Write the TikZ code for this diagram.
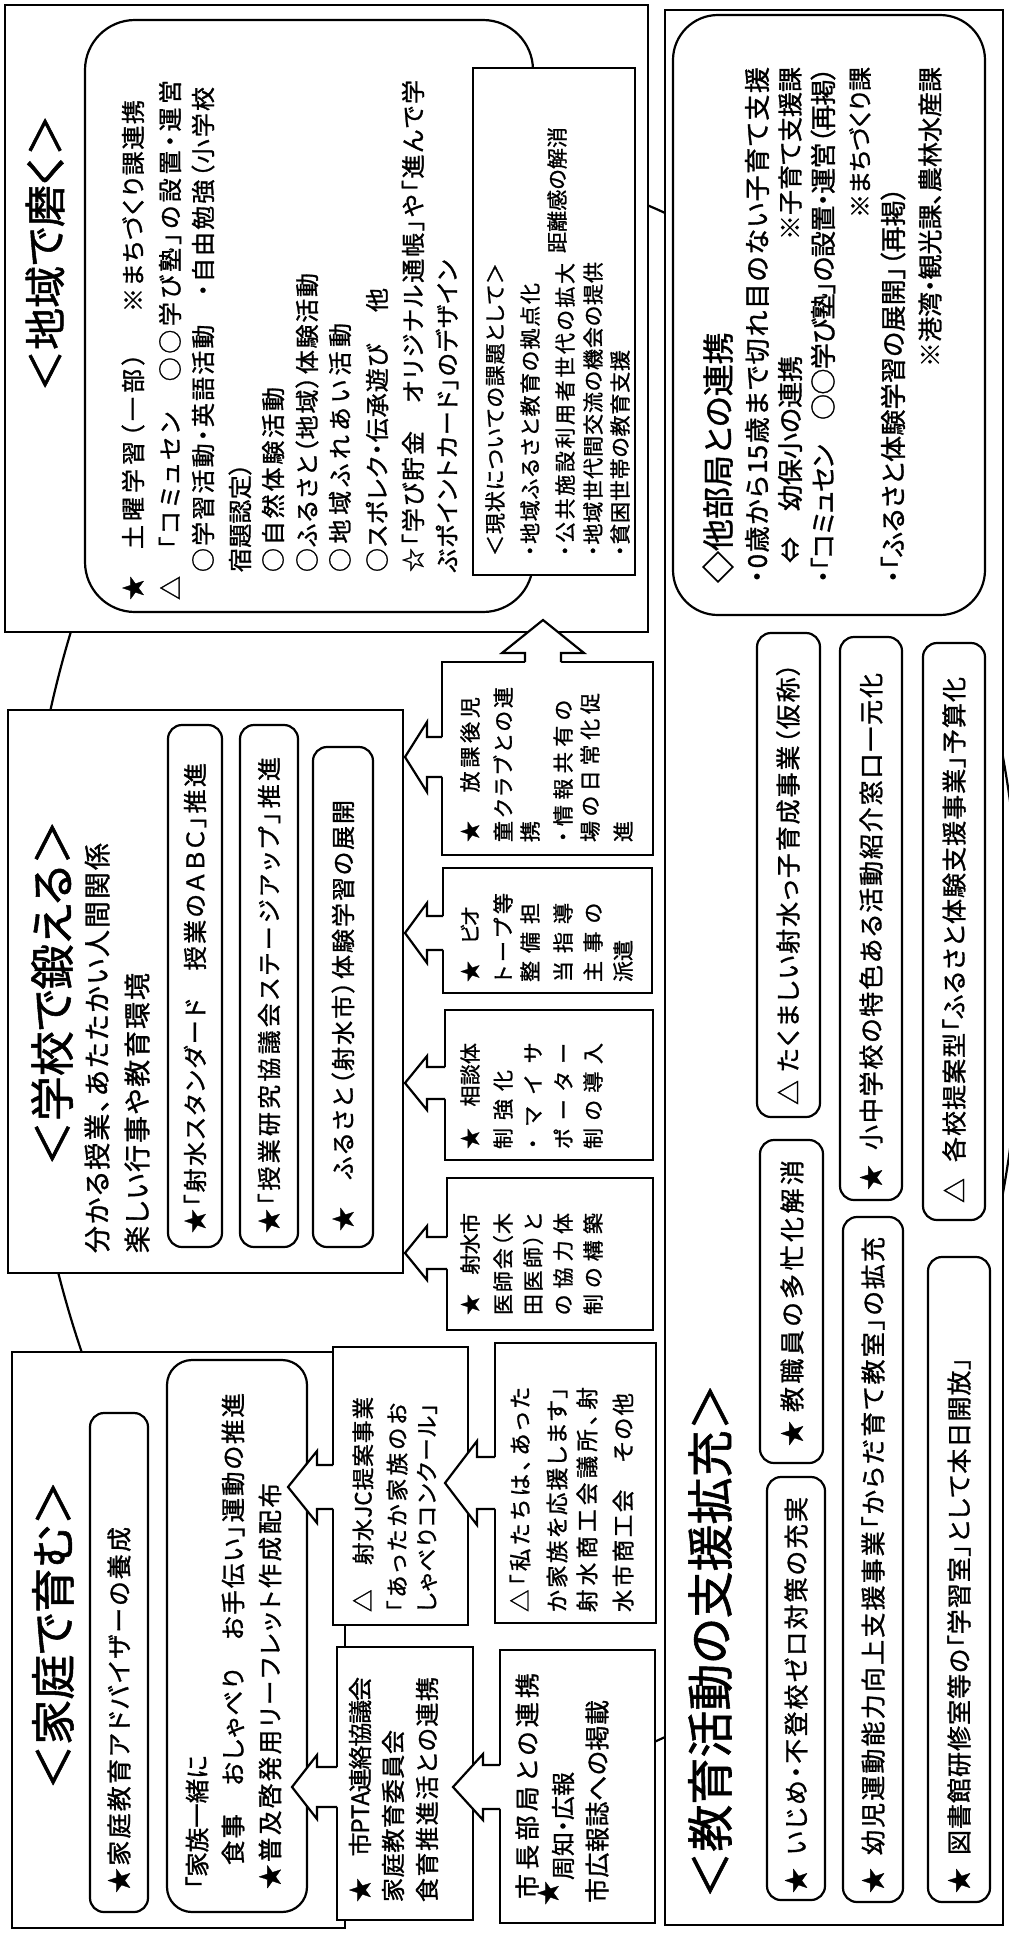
\documentclass[tikz,border=0pt]{standalone}
\usepackage{fontspec}
\setmainfont[RawFeature=+palt,FakeBold=1.2]{Noto Sans CJK JP}
\newcommand\fsz[1]{\fontsize{#1}{#1}\selectfont}
\newcommand\spgap{\hskip 0pt plus 1fil minus 1fil\relax}
\def\sploop#1{\ifx\relax#1\else#1\spgap\expandafter\sploop\fi}
\newcommand\spreadtxt[2]{\makebox[#1pt][s]{\sploop#2\relax\unskip}}
\newcommand\blkL[6]{%
 \fill[white] (#1+2,#2-#6) -- (#3,#2-#6) -- (#3,#2-#5) -- (#4,#2) -- (#3,#2+#5) -- (#3,#2+#6) -- (#1+2,#2+#6) -- cycle;
 \draw[arw] (#1,#2-#6) -- (#3,#2-#6) -- (#3,#2-#5) -- (#4,#2) -- (#3,#2+#5) -- (#3,#2+#6) -- (#1,#2+#6);}
\newcommand\blkU[6]{%
 \fill[white] (#2-#6,#1+2) -- (#2-#6,#3) -- (#2-#5,#3) -- (#2,#4) -- (#2+#5,#3) -- (#2+#6,#3) -- (#2+#6,#1+2) -- cycle;
 \draw[arw] (#2-#6,#1) -- (#2-#6,#3) -- (#2-#5,#3) -- (#2,#4) -- (#2+#5,#3) -- (#2+#6,#3) -- (#2+#6,#1);}
\begin{document}
\begin{tikzpicture}[x=1pt,y=-1pt,
  txt/.style={rotate=90, anchor=west, inner sep=0pt, outer sep=0pt},
  box0/.style={draw, line width=2.8pt, fill=white},
  rbx/.style={draw, line width=2.2pt, fill=white, rounded corners=14pt},
  cbx/.style={draw, line width=2.4pt, fill=white},
  arw/.style={line width=2.2pt, line join=miter}]
\useasboundingbox (0,0) rectangle (1009,1933);
\fill[white] (0,0) rectangle (1009,1933);
\begin{scope}
\clip (0,0) rectangle (1009,1933);
\draw[line width=2.2pt] (522,975) ellipse [x radius=500pt, y radius=795pt];
\end{scope}
% main boxes
\draw[box0] (5,5) rectangle (648,632);
\draw[box0] (8,710) rectangle (403,1273);
\draw[box0] (12,1352) rectangle (345,1928);
\draw[box0] (665,10) rectangle (1003,1925);
% inner boxes
\draw[rbx, rounded corners=50pt] (85,20) rectangle (533,612);
\draw[cbx, line width=2.2pt] (473,68) rectangle (635,575);
\draw[rbx] (168,725) rectangle (222,1247);
\draw[rbx] (240,725) rectangle (298,1247);
\draw[rbx] (313,747) rectangle (373,1247);
\draw[rbx] (90,1413) rectangle (148,1912);
\draw[rbx, rounded corners=25pt] (167,1360) rectangle (307,1912);
\draw[rbx] (767,1477) rectangle (825,1900);
\draw[rbx] (760,1140) rectangle (823,1463);
\draw[rbx] (757,633) rectangle (820,1117);
\draw[rbx] (843,1217) rectangle (903,1902);
\draw[rbx] (840,637) rectangle (902,1200);
\draw[rbx] (928,1257) rectangle (990,1902);
\draw[rbx] (923,643) rectangle (985,1220);
\draw[rbx, rounded corners=45pt] (673,15) rectangle (985,615);
% callout boxes
\draw[cbx] (442,662) rectangle (653,855);
\draw[cbx] (443,868) rectangle (652,993);
\draw[cbx] (445,1010) rectangle (653,1160);
\draw[cbx] (447,1178) rectangle (653,1330);
\draw[cbx] (333,1347) rectangle (468,1625);
\draw[cbx] (337,1647) rectangle (473,1920);
\draw[cbx] (495,1343) rectangle (656,1623);
\draw[cbx] (500,1650) rectangle (655,1923);
% block arrows
\blkL{442}{757}{427}{405}{35}{20}
\blkU{662}{543}{653}{620}{41}{18}
\blkL{443}{933}{427}{405}{30}{17}
\blkL{445}{1083}{427}{405}{27}{16}
\blkL{447}{1253}{427}{405}{27}{16}
\blkL{333}{1487}{317}{288}{36}{22}
\blkL{337}{1787}{317}{292}{32}{20}
\blkL{495}{1483}{477}{445}{42}{26}
\blkL{500}{1787}{483}{453}{33}{22}
% ---- 地域で磨く
\node[txt, anchor=center] (tA) at (45,253) {\fsz{42}＜地域で磨く＞};
\node[txt] (a1s) at (133,600) {\fsz{24}★};
\node[txt] (a1) at (133,549) {\fsz{24}\spreadtxt{196}{土曜学習（一部）}};
\node[txt] (a1b) at (133,312) {\fsz{24}\spreadtxt{212}{※まちづくり課連携}};
\node[txt] (a2s) at (170,600) {\fsz{24}△};
\node[txt] (a2) at (170,549) {\fsz{24}\spreadtxt{469}{「コミュセン　○○学び塾」の設置・運営}};
\node[txt] (a3) at (203,572) {\fsz{24}\spreadtxt{485}{○学習活動・英語活動　・自由勉強（小学校}};
\node[txt] (a4) at (240,572) {\fsz{24}\spreadtxt{109}{宿題認定）}};
\node[txt] (a5) at (273,572) {\fsz{24}\spreadtxt{185}{○自然体験活動}};
\node[txt] (a6) at (307,572) {\fsz{24}\spreadtxt{299}{○ふるさと（地域）体験活動}};
\node[txt] (a7) at (340,572) {\fsz{24}\spreadtxt{249}{○地域ふれあい活動}};
\node[txt] (a8) at (377,572) {\fsz{24}\spreadtxt{228}{○スポレク・伝承遊び}};
\node[txt] (a8b) at (377,312) {\fsz{24}他};
\node[txt] (a9) at (413,572) {\fsz{24}\spreadtxt{492}{☆「学び貯金　オリジナル通帳」や「進んで学}};
\node[txt] (a10) at (447,572) {\fsz{24}\spreadtxt{312}{ぶポイントカード」のデザイン}};
\node[txt] (g0) at (495,556) {\fsz{21}\spreadtxt{293}{＜現状についての課題として＞}};
\node[txt] (g1) at (530,556) {\fsz{21}\spreadtxt{273}{・地域ふるさと教育の拠点化}};
\node[txt] (g2) at (565,556) {\fsz{21}\spreadtxt{293}{・公共施設利用者世代の拡大}};
\node[txt] (g2b) at (557,253) {\fsz{21}\spreadtxt{126}{距離感の解消}};
\node[txt] (g3) at (593,556) {\fsz{21}\spreadtxt{294}{・地域世代間交流の機会の提供}};
\node[txt] (g4) at (620,556) {\fsz{21}\spreadtxt{206}{・貧困世帯の教育支援}};
% ---- 学校で鍛える
\node[txt, anchor=center] (tB) at (52,993) {\fsz{45}＜学校で鍛える＞};
\node[txt] (b1) at (97,1253) {\fsz{27}\spreadtxt{410}{分かる授業、あたたかい人間関係}};
\node[txt] (b2) at (137,1253) {\fsz{27}\spreadtxt{280}{楽しい行事や教育環境}};
\node[txt] (b3) at (195,1233) {\fsz{24}\spreadtxt{470}{★「射水スタンダード　授業のＡＢＣ」推進}};
\node[txt] (b4) at (269,1233) {\fsz{24}\spreadtxt{476}{★「授業研究協議会ステージアップ」推進}};
\node[txt] (b5) at (343,1231) {\fsz{24}\spreadtxt{431}{★　ふるさと（射水市）体験学習の展開}};
\node[txt] (c1) at (470,842) {\fsz{21}\spreadtxt{145}{★　放課後児}};
\node[txt] (c2) at (503,842) {\fsz{21}\spreadtxt{155}{童クラブとの連}};
\node[txt] (c3) at (530,842) {\fsz{21}携};
\node[txt] (c4) at (563,842) {\fsz{21}\spreadtxt{142}{・情報共有の}};
\node[txt] (c5) at (590,842) {\fsz{21}\spreadtxt{149}{場の日常化促}};
\node[txt] (c6) at (623,842) {\fsz{21}進};
\node[txt] (d1) at (470,982) {\fsz{21}\spreadtxt{75}{★　ビオ}};
\node[txt] (d2) at (503,982) {\fsz{21}\spreadtxt{89}{トープ等}};
\node[txt] (d3) at (530,982) {\fsz{21}\spreadtxt{79}{整備担}};
\node[txt] (d4) at (563,982) {\fsz{21}\spreadtxt{79}{当指導}};
\node[txt] (d5) at (593,982) {\fsz{21}\spreadtxt{79}{主事の}};
\node[txt] (d6) at (623,982) {\fsz{21}派遣};
\node[txt] (e1) at (470,1149) {\fsz{21}\spreadtxt{106}{★　相談体}};
\node[txt] (e2) at (503,1149) {\fsz{21}\spreadtxt{79}{制強化}};
\node[txt] (e3) at (533,1149) {\fsz{21}\spreadtxt{106}{・マイサ}};
\node[txt] (e4) at (563,1149) {\fsz{21}\spreadtxt{106}{ポーター}};
\node[txt] (e5) at (593,1149) {\fsz{21}\spreadtxt{106}{制の導入}};
\node[txt] (f1) at (470,1315) {\fsz{21}\spreadtxt{102}{★　射水市}};
\node[txt] (f2) at (503,1315) {\fsz{21}\spreadtxt{102}{医師会（木}};
\node[txt] (f3) at (533,1315) {\fsz{21}\spreadtxt{102}{田医師）と}};
\node[txt] (f4) at (563,1315) {\fsz{21}\spreadtxt{102}{の協力体}};
\node[txt] (f5) at (593,1315) {\fsz{21}\spreadtxt{102}{制の構築}};
% ---- 家庭で育む
\node[txt, anchor=center] (tC) at (53,1635) {\fsz{45}＜家庭で育む＞};
\node[txt] (h1) at (119,1893) {\fsz{25}\spreadtxt{366}{★家庭教育アドバイザーの養成}};
\node[txt] (h2) at (197,1889) {\fsz{24.5}「家族一緒に};
\node[txt] (h3) at (233,1865) {\fsz{24.5}\spreadtxt{472}{食事　おしゃべり　お手伝い」運動の推進}};
\node[txt] (h4) at (270,1889) {\fsz{24.5}\spreadtxt{406}{★普及啓発用リーフレット作成配布}};
\node[txt] (j1) at (363,1612) {\fsz{22.5}\spreadtxt{215}{△　射水{JC}提案事業}};
\node[txt] (j2) at (397,1612) {\fsz{22.5}\spreadtxt{209}{「あったか家族のお}};
\node[txt] (j3) at (427,1612) {\fsz{22.5}\spreadtxt{209}{しゃべりコンクール」}};
\node[txt] (k1) at (520,1612) {\fsz{22.5}\spreadtxt{225}{△「私たちは、あった}};
\node[txt] (k2) at (557,1612) {\fsz{22.5}\spreadtxt{225}{か家族を応援します」}};
\node[txt] (k3) at (587,1612) {\fsz{22.5}\spreadtxt{225}{射水商工会議所、射}};
\node[txt] (k4) at (623,1612) {\fsz{22.5}\spreadtxt{219}{水市商工会　その他}};
\node[txt] (p1) at (360,1902) {\fsz{24}\spreadtxt{225}{★　市{PTA}連絡協議会}};
\node[txt] (p2) at (393,1902) {\fsz{24}\spreadtxt{172}{家庭教育委員会}};
\node[txt] (p3) at (427,1902) {\fsz{24}\spreadtxt{225}{食育推進活との連携}};
\node[txt] (m1) at (527,1899) {\fsz{25}\spreadtxt{226}{市長部局との連携}};
\node[txt] (m2s) at (548,1905) {\fsz{24}★};
\node[txt] (m2) at (563,1880) {\fsz{24}周知・広報};
\node[txt] (m3) at (597,1903) {\fsz{25}\spreadtxt{203}{市広報誌への掲載}};
% ---- 教育活動の支援拡充
\node[txt, anchor=center] (tD) at (710,1641) {\fsz{47}＜教育活動の支援拡充＞};
\node[txt] (q1s) at (796,1893) {\fsz{25}★};
\node[txt] (q1) at (796,1855) {\fsz{25}\spreadtxt{358}{いじめ・不登校ゼロ対策の充実}};
\node[txt] (q2s) at (792,1446) {\fsz{25}★};
\node[txt] (q2) at (792,1412) {\fsz{25}\spreadtxt{252}{教職員の多忙化解消}};
\node[txt] (q3s) at (788,1105) {\fsz{25}△};
\node[txt] (q3) at (788,1072) {\fsz{25}\spreadtxt{409}{たくましい射水っ子育成事業（仮称）}};
\node[txt] (q4s) at (873,1893) {\fsz{25}★};
\node[txt] (q4) at (873,1855) {\fsz{25}\spreadtxt{618}{幼児運動能力向上支援事業「からだ育て教室」の拡充}};
\node[txt] (q5s) at (871,1190) {\fsz{25}★};
\node[txt] (q5) at (871,1150) {\fsz{25}\spreadtxt{477}{小中学校の特色ある活動紹介窓口一元化}};
\node[txt] (q6s) at (959,1893) {\fsz{25}★};
\node[txt] (q6) at (959,1855) {\fsz{25}\spreadtxt{498}{図書館研修室等の「学習室」として本日開放」}};
\node[txt] (q7s) at (954,1203) {\fsz{25}△};
\node[txt] (q7) at (954,1162) {\fsz{25}\spreadtxt{485}{各校提案型「ふるさと体験支援事業」予算化}};
\node[txt] (r0) at (718,583) {\fsz{32}◇他部局との連携};
\node[txt] (r1) at (757,583) {\fsz{26}\spreadtxt{516}{・0歳から{15}歳まで切れ目のない子育て支援}};
\node[txt] (r2) at (790,563) {\fsz{26}⇔　幼保小の連携};
\node[txt, anchor=east] (r2b) at (790,67) {\fsz{25}※子育て支援課};
\node[txt] (r3) at (823,583) {\fsz{26}\spreadtxt{516}{・「コミュセン　○○学び塾」の設置・運営（再掲）}};
\node[txt, anchor=east] (r4) at (860,67) {\fsz{24}※まちづくり課};
\node[txt] (r5) at (893,583) {\fsz{26}\spreadtxt{396}{・「ふるさと体験学習の展開」（再掲）}};
\node[txt, anchor=east] (r6) at (930,67) {\fsz{25}※港湾・観光課、農林水産課};
\end{tikzpicture}
\end{document}
